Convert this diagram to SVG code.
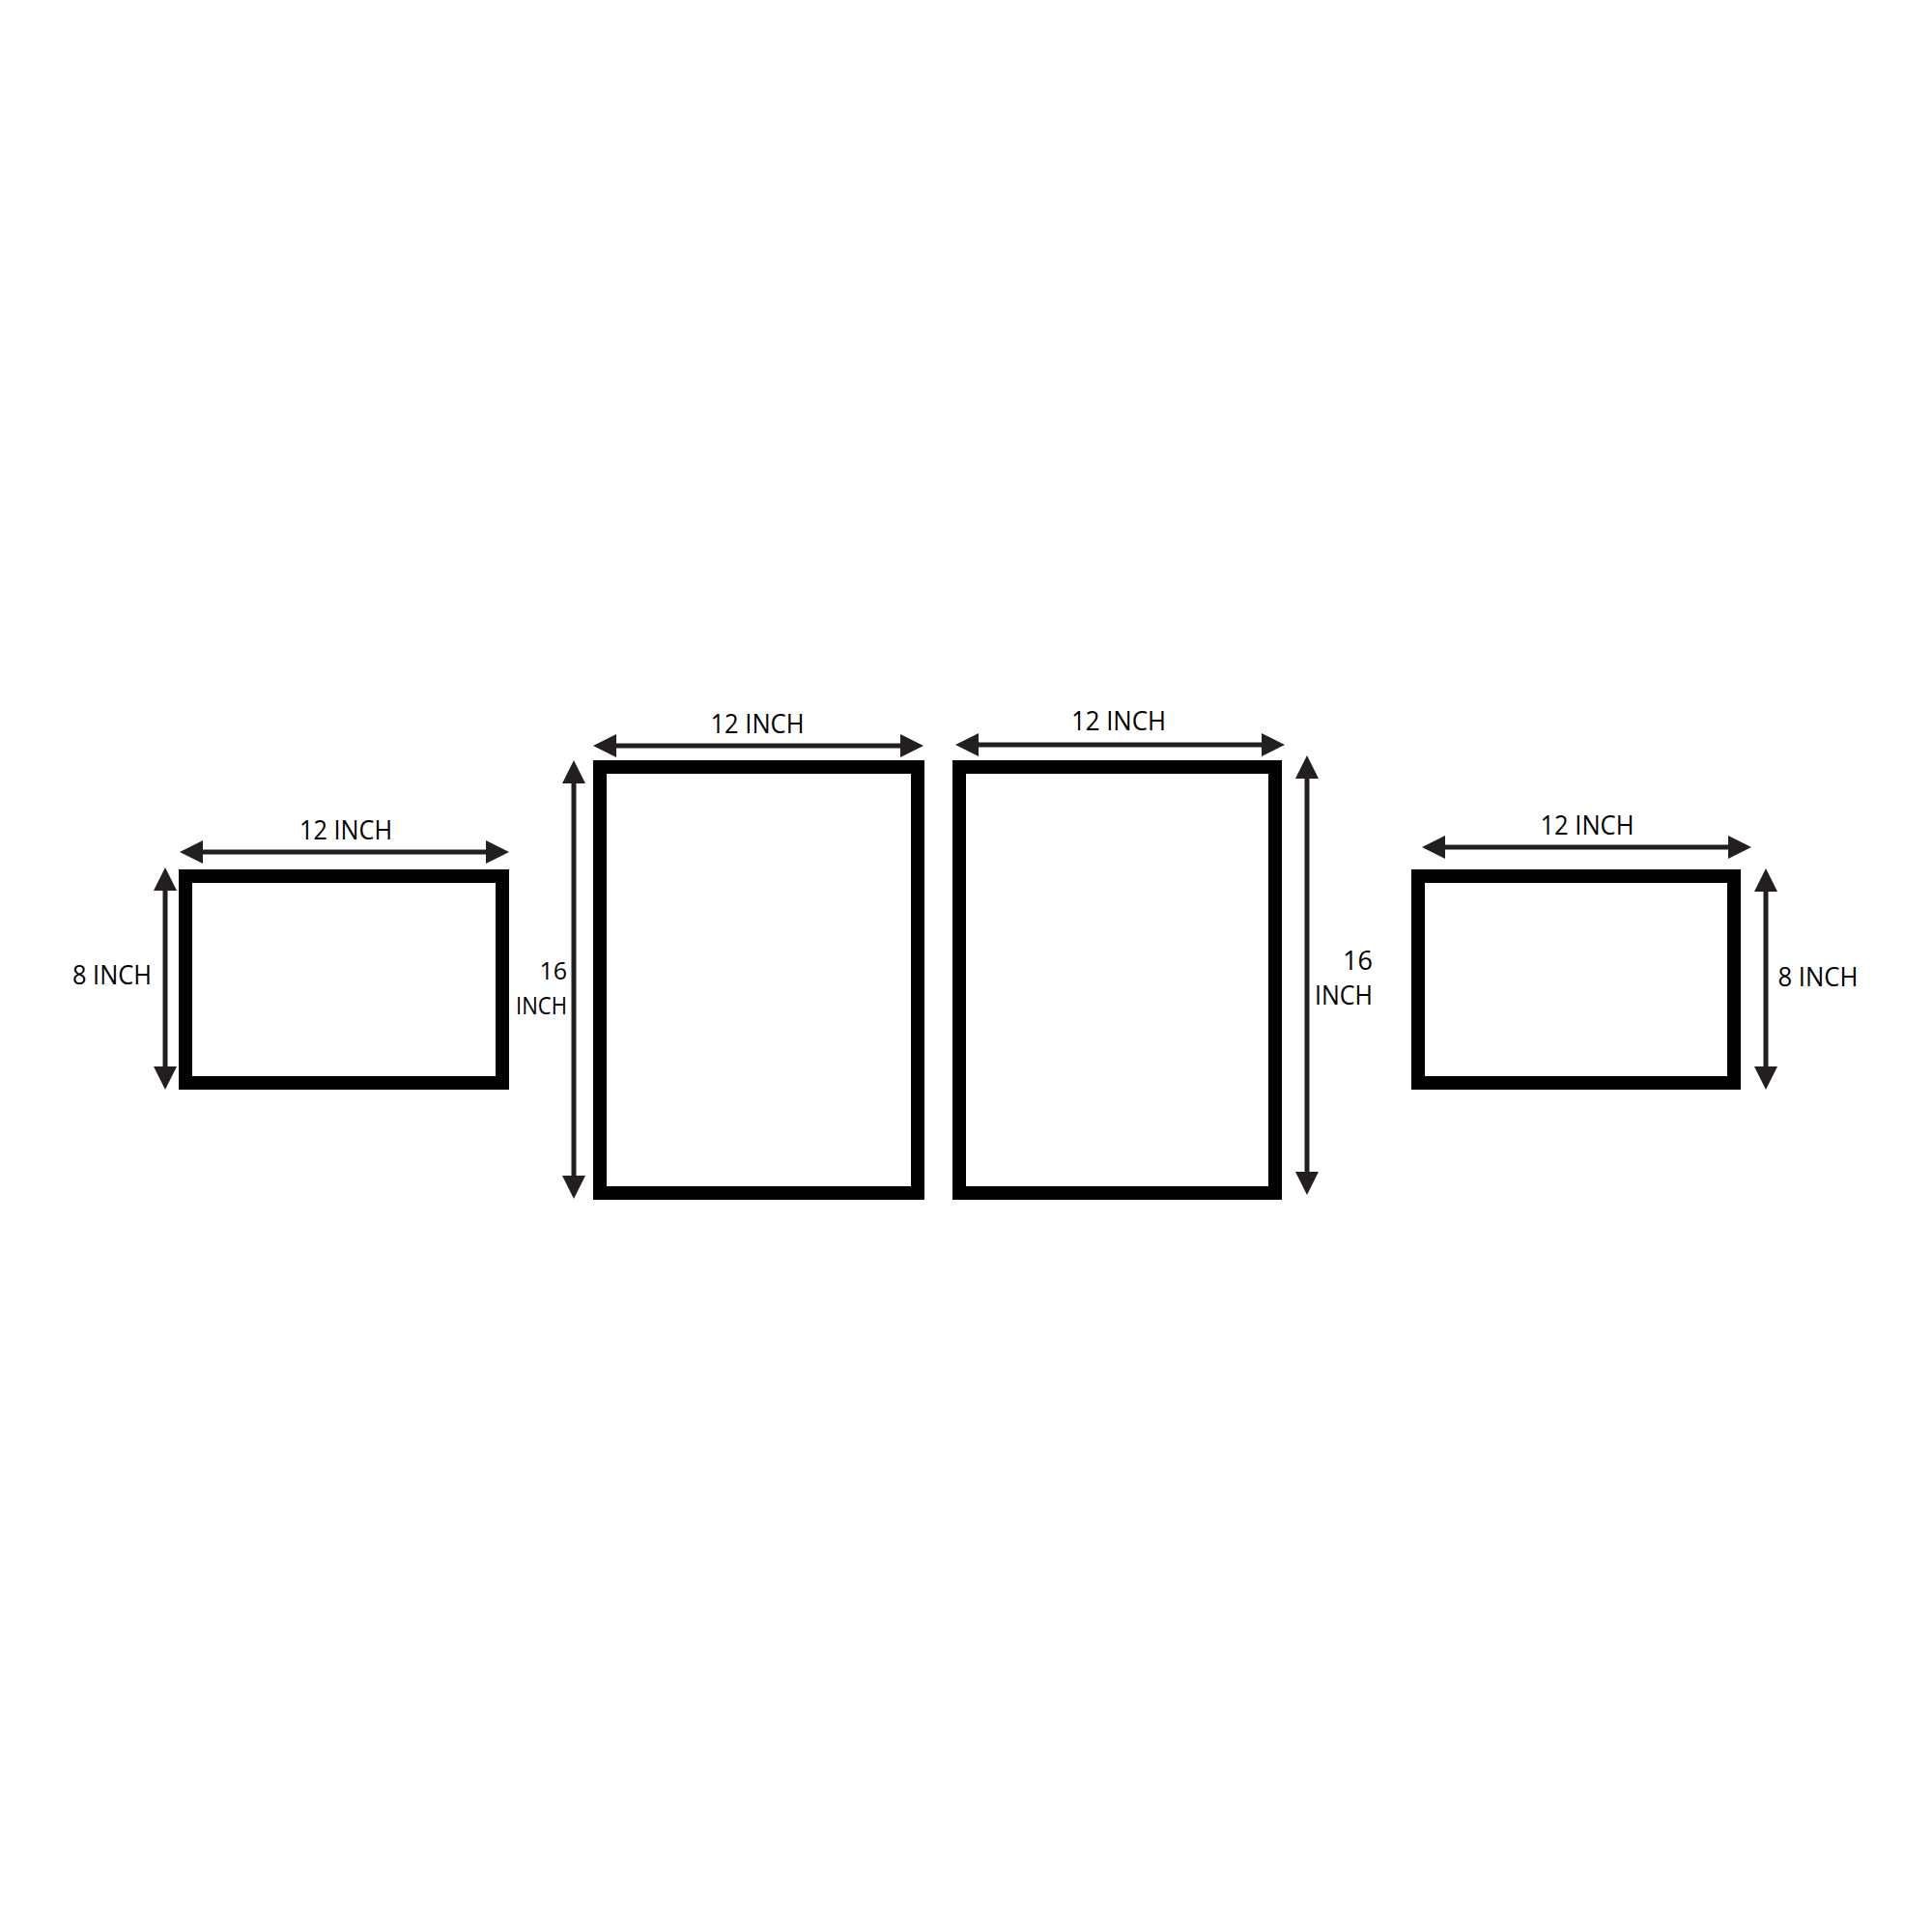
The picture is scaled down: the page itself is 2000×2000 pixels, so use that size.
<svg xmlns="http://www.w3.org/2000/svg" width="2000" height="2000" viewBox="0 0 2000 2000">
<style>
.frame{fill:none;stroke:#000;stroke-width:14}
.dim{stroke:#231f20;stroke-width:5;fill:none;marker-start:url(#ah);marker-end:url(#ah)}
.lbl{font-family:"Open Sans","Liberation Sans",sans-serif;font-size:27px;fill:#000}
.sm{font-size:25px}
</style>
<defs>
<marker id="ah" markerUnits="userSpaceOnUse" markerWidth="24" markerHeight="24" viewBox="0 0 24 24" refX="0" refY="12" orient="auto-start-reverse">
<path d="M0,0 L24,12 L0,24 Z" fill="#231f20"/>
</marker>
</defs>
<rect width="2000" height="2000" fill="#fff"/>
<g id="frame-left"><rect class="frame" x="192" y="907" width="328" height="214"/></g>
<g id="frame-tall-1"><rect class="frame" x="621" y="794" width="329" height="441"/></g>
<g id="frame-tall-2"><rect class="frame" x="993" y="794" width="327" height="441"/></g>
<g id="frame-right"><rect class="frame" x="1468" y="907" width="327" height="214"/></g>
<g id="connectors">
<line class="dim" x1="210" y1="882" x2="503" y2="882"/>
<line class="dim" x1="171" y1="922" x2="171" y2="1104"/>
<line class="dim" x1="638" y1="772" x2="932" y2="772"/>
<line class="dim" x1="594" y1="811" x2="594" y2="1217"/>
<line class="dim" x1="1013" y1="771" x2="1306" y2="771"/>
<line class="dim" x1="1353" y1="806" x2="1353" y2="1213"/>
<line class="dim" x1="1496" y1="877" x2="1789" y2="877"/>
<line class="dim" x1="1828" y1="923" x2="1828" y2="1104"/>
</g>
<g id="labels">
<text class="lbl" x="358" y="869" text-anchor="middle" textLength="96" lengthAdjust="spacingAndGlyphs">12 INCH</text>
<text class="lbl" x="116" y="1019" text-anchor="middle" textLength="82" lengthAdjust="spacingAndGlyphs">8 INCH</text>
<text class="lbl" x="784" y="759" text-anchor="middle" textLength="97" lengthAdjust="spacingAndGlyphs">12 INCH</text>
<text class="lbl sm" x="587" y="1014" text-anchor="end">16</text>
<text class="lbl sm" x="587" y="1050" text-anchor="end" textLength="53" lengthAdjust="spacingAndGlyphs">INCH</text>
<text class="lbl" x="1158" y="756" text-anchor="middle" textLength="98" lengthAdjust="spacingAndGlyphs">12 INCH</text>
<text class="lbl" x="1421" y="1004" text-anchor="end">16</text>
<text class="lbl" x="1421" y="1040" text-anchor="end" textLength="60" lengthAdjust="spacingAndGlyphs">INCH</text>
<text class="lbl" x="1643" y="864" text-anchor="middle" textLength="97" lengthAdjust="spacingAndGlyphs">12 INCH</text>
<text class="lbl" x="1882" y="1021" text-anchor="middle" textLength="83" lengthAdjust="spacingAndGlyphs">8 INCH</text>
</g>
</svg>
